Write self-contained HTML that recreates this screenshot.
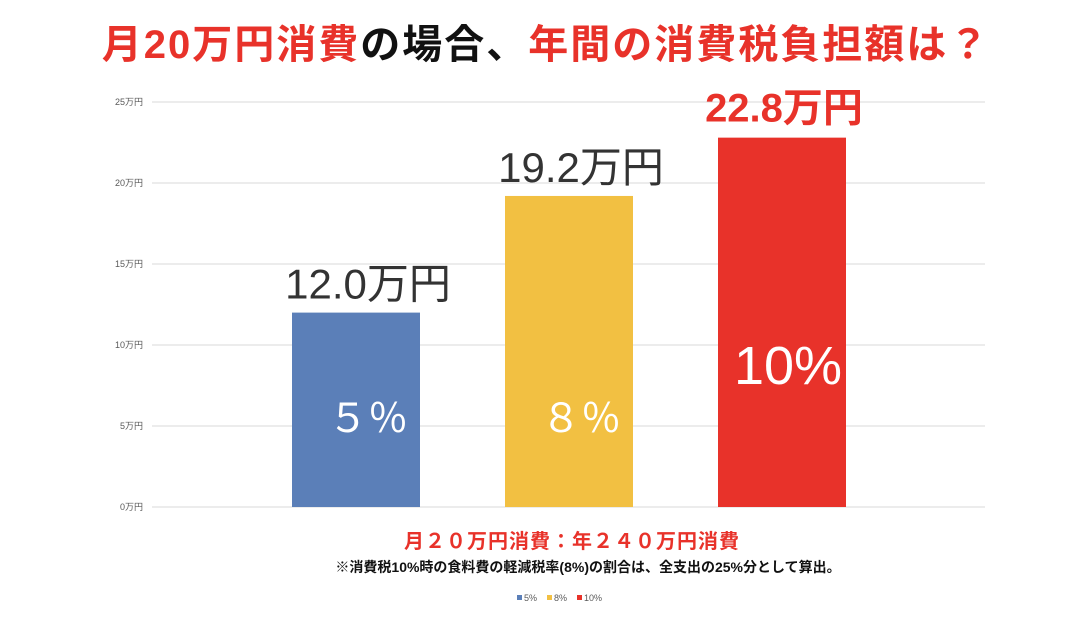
<!DOCTYPE html>
<html><head><meta charset="utf-8"><style>
body{margin:0;width:1092px;height:618px;background:#fff;overflow:hidden;font-family:"Liberation Sans","Noto Sans CJK JP",sans-serif}
.t{position:absolute;white-space:nowrap}
</style></head><body>
<div class="t" style="left:0;width:1092px;text-align:center;top:12px;font-size:40px;font-weight:bold;color:#e8322a;letter-spacing:2px">月20万円消費<span style="color:#111">の場合、</span>年間の消費税負担額は？</div>
<svg id="c" width="1092" height="618" style="position:absolute;left:0;top:0"></svg>
<div class="t" style="left:26px;width:1092px;text-align:center;top:525px;font-size:20px;font-weight:bold;color:#e8322a;letter-spacing:1px">月２０万円消費：年２４０万円消費</div>
<div class="t" style="left:42px;width:1092px;text-align:center;top:557px;font-size:14px;font-weight:bold;color:#111">※消費税10%時の食料費の軽減税率(8%)の割合は、全支出の25%分として算出。</div>
<script>
const categories=["5%","8%","10%"];
const values=[12.0,19.2,22.8];
const valueLabels=["12.0万円","19.2万円","22.8万円"];
const inLabels=["５％","８％","10%"];
const ticks=[0,5,10,15,20,25];
const colors=["#5b7fb8","#f2c042","#e8322a"];
const NS="http://www.w3.org/2000/svg";
const svg=document.getElementById('c');
const y0=507,y25=102,xL=152,xR=985;
const y=v=>y0-(y0-y25)*v/25;
const bandW=213,x0=250;
const bx=i=>x0+i*bandW+42;
function mk(t,a){const e=document.createElementNS(NS,t);for(const k in a)e.setAttribute(k,a[k]);svg.appendChild(e);return e;}
ticks.forEach(t=>{
 const l=mk('line',{x1:xL,x2:xR,y1:y(t),y2:y(t),stroke:'#d9d9d9','stroke-width':1});
 
 
 const tx=mk('text',{x:143,y:y(t)+3,'text-anchor':'end','font-size':9,fill:'#595959'});
 tx.textContent=t+'万円';
 
 
});
values.forEach((v,i)=>{
 const r=mk('rect',{x:bx(i),y:y(v),width:128,height:y0-y(v),fill:colors[i]});
 
 
 const big=i===2;
 const lt=mk('text',{x:bx(i)+(big?66:76),y:y(v)-(big?16:14),'text-anchor':'middle','font-size':big?40:42,'font-weight':big?'bold':'normal',fill:big?'#e8322a':'#333'});
 lt.textContent=valueLabels[i];
 
 
 const it=mk('text',{x:bx(i)+(big?70:76),y:big?384:432,'text-anchor':'middle','font-size':big?54:40,fill:'#fff'});
 it.textContent=inLabels[i];
 
 
});
categories.forEach((c,i)=>{
 const lx=517+i*30;
 const s=mk('rect',{x:lx,y:595,width:5,height:5,fill:colors[i]});
 
 
 const t=mk('text',{x:lx+7,y:601,'font-size':9,fill:'#595959'});
 t.textContent=c;
 
 
});
</script>
</body></html>
